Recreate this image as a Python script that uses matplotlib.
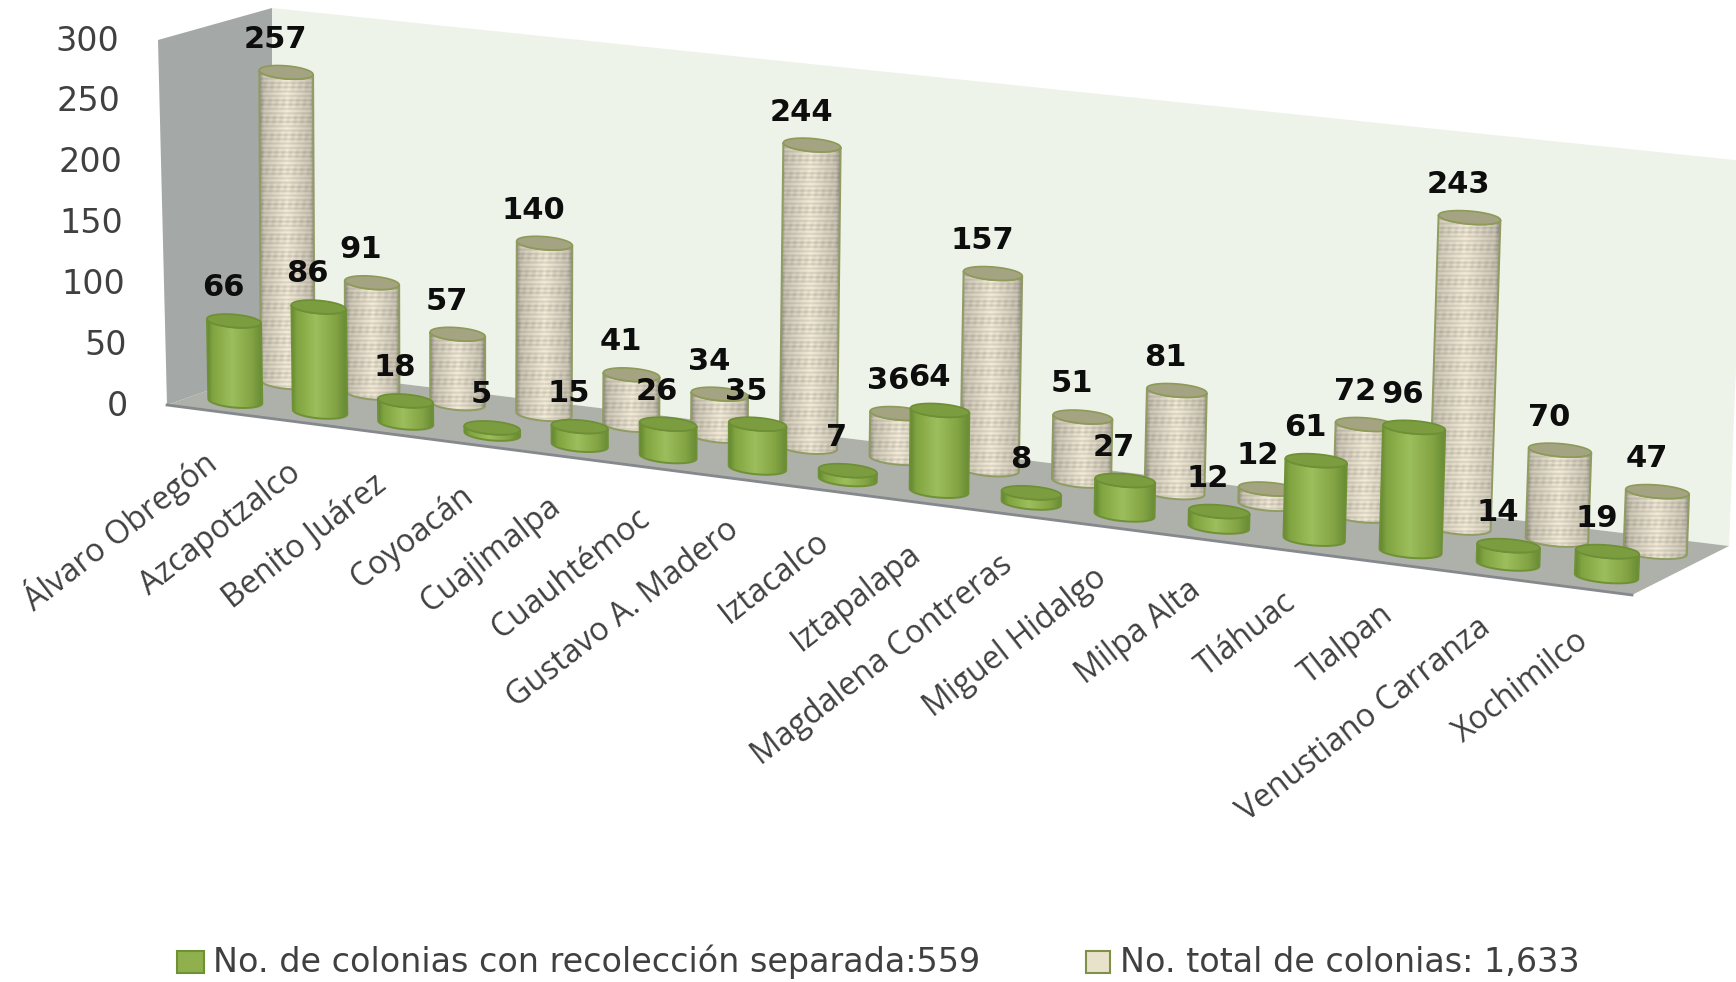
import matplotlib
matplotlib.use("Agg")
import matplotlib.pyplot as plt
import numpy as np
from matplotlib.patches import PathPatch, Polygon, Rectangle
from matplotlib.path import Path

delegaciones = ["Álvaro Obregón", "Azcapotzalco", "Benito Juárez", "Coyoacán", "Cuajimalpa",
                "Cuauhtémoc", "Gustavo A. Madero", "Iztacalco", "Iztapalapa", "Magdalena Contreras",
                "Miguel Hidalgo", "Milpa Alta", "Tláhuac", "Tlalpan", "Venustiano Carranza", "Xochimilco"]
con_recoleccion = [66, 86, 18, 5, 15, 26, 35, 7, 64, 8, 27, 12, 61, 96, 14, 19]
total_colonias = [257, 91, 57, 140, 41, 34, 244, 36, 157, 51, 81, 12, 72, 243, 70, 47]
y_ticks = [0, 50, 100, 150, 200, 250, 300]
legend_labels = ["No. de colonias con recolección separada:559", "No. total de colonias: 1,633"]

Y_MAX = 300.0
W, H = 1736, 982

# pixel corners of the excel 3d box: (front/back, left/right, bottom/top)
FLB = np.array([167, 405.0])
FLT = np.array([158, 40.0])
BLB = np.array([272, 368.0])
BLT = np.array([272, 8.0])
BRB = np.array([1729, 546.0])
BRT = np.array([1744, 161.0])
FRB = np.array([1632, 595.0])
FRT = np.array([1647, 200.0])


def warp(t):
    w = 1.09
    return t / (t + w * (1 - t))


def project(t, d, v):
    u = warp(t)
    bottom = (1 - d) * ((1 - u) * FLB + u * FRB) + d * ((1 - u) * BLB + u * BRB)
    top = (1 - d) * ((1 - u) * FLT + u * FRT) + d * ((1 - u) * BLT + u * BRT)
    return bottom + (top - bottom) * (v / Y_MAX)


def ellipse_points(center, rx, ry, a0, a1, n=40):
    ang = np.linspace(a0, a1, n)
    xs = center[0] + rx * np.cos(ang)
    ys = center[1] + ry * np.sin(ang) + 0.08 * rx * np.cos(ang)
    return np.column_stack([xs, ys])


def green_image():
    pos = np.linspace(0, 1, 80)
    stops = [0.0, 0.1, 0.45, 0.8, 1.0]
    r = np.interp(pos, stops, [100, 128, 157, 132, 102])
    g = np.interp(pos, stops, [136, 164, 190, 164, 138])
    b = np.interp(pos, stops, [50, 64, 92, 68, 52])
    return (np.dstack([r, g, b]) / 255.0)


def tan_image(w, h):
    xs = np.linspace(0, 1, int(w))
    ys = np.arange(int(h))
    stops = [0.0, 0.08, 0.5, 0.92, 1.0]
    shade = np.interp(xs, stops, [0.62, 0.84, 1.0, 0.84, 0.62])
    xx, yy = np.meshgrid(np.arange(int(w)), ys)
    weave = 1 - 0.05 * (np.sin(yy * 1.45) + 1) - 0.035 * (np.sin(xx * 0.9 + yy * 0.13) + 1) * (np.sin(yy * 0.37) + 1) / 2
    lum = shade[None, :] * weave
    return np.clip(np.dstack([lum * 246, lum * 238, lum * 218]) / 255.0, 0, 1)


def draw_cylinder(ax, t, d, value, kind, z):
    half = 0.32 / 16
    base = project(t, d, 0)
    topc = project(t, d, value)
    rx = (project(t + half, d, 0)[0] - project(t - half, d, 0)[0]) / 2
    ry = 6.5
    lower = ellipse_points(base, rx, ry, np.pi, 0)
    upper = ellipse_points(topc, rx, ry, 0, np.pi)
    body = np.vstack([lower, upper])
    x0, x1 = min(base[0], topc[0]) - rx, max(base[0], topc[0]) + rx
    y0, y1 = topc[1] - ry - 1, base[1] + ry + 3
    if kind == "green":
        img = green_image()
        edge, cap, cap_edge = "#6f9136", "#7b9c3f", "#6d8f35"
    else:
        img = tan_image(x1 - x0 + 1, y1 - y0 + 1)
        edge, cap, cap_edge = "#8f9c62", "#a5a482", "#8d9a58"
    outline = PathPatch(Path(np.vstack([body, body[0]])), facecolor="none", edgecolor=edge, linewidth=1.4, zorder=z + 0.2)
    ax.add_patch(outline)
    im = ax.imshow(img, extent=(x0, x1, y1, y0), aspect="auto", zorder=z + 0.1, interpolation="bilinear")
    im.set_clip_path(outline)
    cap_pts = ellipse_points(topc, rx, ry, 0, 2 * np.pi, n=70)
    ax.add_patch(Polygon(cap_pts, closed=True, facecolor=cap, edgecolor=cap_edge, linewidth=1.2, zorder=z + 0.3))


plt.rcParams["font.family"] = ["Open Sans", "DejaVu Sans"]
fig = plt.figure(figsize=(W / 100, H / 100), dpi=100, facecolor="white")
ax = fig.add_axes([0, 0, 1, 1])

# walls and floor
ax.add_patch(Polygon([BLB, BLT, BRT, BRB], closed=True, facecolor="#edf3e9", edgecolor="none", zorder=1))
ax.add_patch(Polygon([FLB, FLT, BLT, BLB], closed=True, facecolor="#a4a8a6", edgecolor="none", zorder=1))
ax.add_patch(Polygon([FLB, BLB, BRB, FRB], closed=True, facecolor="#aeb0aa", edgecolor="none", zorder=2))
ax.plot([FLB[0], FRB[0]], [FLB[1], FRB[1]], color="#85888c", linewidth=2, zorder=2.5)

n = len(delegaciones)
z = 10
for i in range(n):
    draw_cylinder(ax, (i + 0.5) / n, 0.75, total_colonias[i], "tan", z)
    z += 1
for i in range(n):
    draw_cylinder(ax, (i + 0.5) / n, 0.25, con_recoleccion[i], "green", z)
    z += 1

for i in range(n):
    for d, vals in ((0.75, total_colonias), (0.25, con_recoleccion)):
        p = project((i + 0.5) / n, d, vals[i])
        ax.text(p[0] - 11, p[1] - 33, str(vals[i]), ha="center", va="center", fontsize=22,
                fontweight="bold", family="DejaVu Sans", color="#0d0d0d", zorder=100)

for v in y_ticks:
    p = project(0, 0, v)
    ax.text(p[0] - 39, p[1] + 1, str(v), ha="right", va="center", fontsize=24,
            family="DejaVu Sans", color="#404040", zorder=100)

for i, name in enumerate(delegaciones):
    p = project((i + 0.5) / n, 0, 0)
    ax.text(p[0] + 3, p[1] + 48, name, ha="right", va="center", rotation=38, rotation_mode="anchor",
            fontsize=23, color="#404040", zorder=100)

# legend
ax.add_patch(Rectangle((177, 951), 27, 22, facecolor="#8fb04c", edgecolor="#6f9136", linewidth=1.5, zorder=100))
ax.text(213, 962, legend_labels[0], ha="left", va="center", fontsize=24, family="DejaVu Sans", color="#404040", zorder=100)
ax.add_patch(Rectangle((1086, 951), 24, 22, facecolor="#e9e2cb", edgecolor="#7f9148", linewidth=1.5, zorder=100))
ax.text(1120, 962, legend_labels[1], ha="left", va="center", fontsize=24, family="DejaVu Sans", color="#404040", zorder=100)

ax.set_xlim(0, W)
ax.set_ylim(H, 0)
ax.axis("off")
fig.savefig("out.png", dpi=100, facecolor="white")
